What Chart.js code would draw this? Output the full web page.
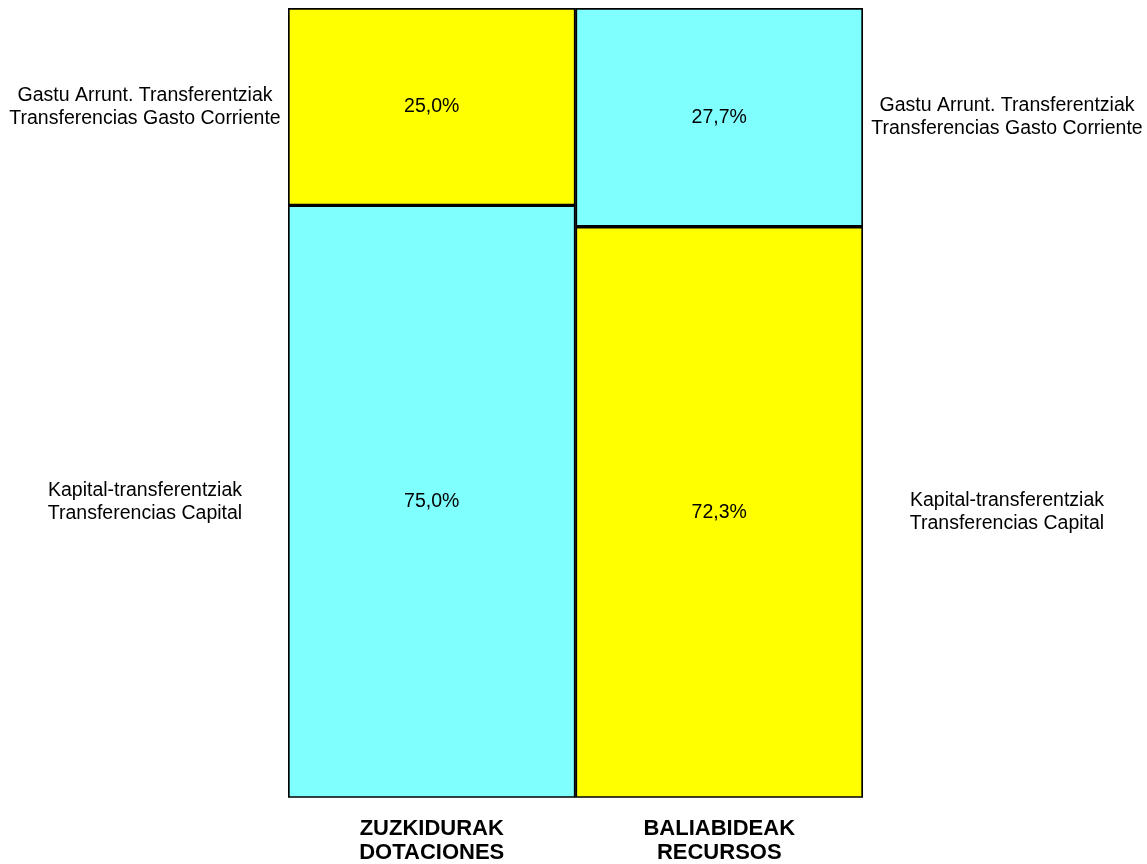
<!DOCTYPE html>
<html>
<head>
<meta charset="utf-8">
<script src="https://cdn.jsdelivr.net/npm/chart.js@4"></script>
<style>
  html, body { margin: 0; padding: 0; background: #fff; }
  #wrap { width: 1147px; height: 864px; }
</style>
</head>
<body>
<div id="wrap"><canvas id="grafico"></canvas></div>
<script>
var categorias = [['ZUZKIDURAK', 'DOTACIONES'], ['BALIABIDEAK', 'RECURSOS']];
var capitalValores = [75.0, 72.3];
var corrienteValores = [25.0, 27.7];
var capitalEtiqueta = ['Kapital-transferentziak', 'Transferencias Capital'];
var corrienteEtiqueta = ['Gastu Arrunt. Transferentziak', 'Transferencias Gasto Corriente'];

var AMARILLO = '#ffff00';
var CIAN = '#80ffff';
var FUENTE = '"Liberation Sans", Arial, sans-serif';

// etiquetas de valor y textos laterales
var etiquetasPlugin = {
    id: 'etiquetas',
    afterDatasetsDraw: function(chart) {
        var ctx = chart.ctx;
        var area = chart.chartArea;
        ctx.save();
        ctx.fillStyle = '#000';
        ctx.textAlign = 'center';
        ctx.textBaseline = 'middle';
        ctx.font = '19.5px ' + FUENTE;
        chart.data.datasets.forEach(function(ds, i) {
            var meta = chart.getDatasetMeta(i);
            meta.data.forEach(function(bar, j) {
                var yc = (bar.y + bar.base) / 2;
                var txt = ds.data[j].toFixed(1).replace('.', ',') + '%';
                ctx.fillText(txt, bar.x, yc);
                // texto lateral: izquierda para la primera barra, derecha para la segunda
                var xl = j === 0 ? area.left - 143 : area.right + 144;
                ctx.fillText(ds.lineas[0], xl, yc - 11.5);
                ctx.fillText(ds.lineas[1], xl, yc + 11.5);
            });
        });
        ctx.restore();
    }
};

var ctx = document.getElementById('grafico').getContext('2d');
var grafico = new Chart(ctx, {
    type: 'bar',
    data: {
        labels: categorias,
        datasets: [{
            label: capitalEtiqueta.join(' / '),
            lineas: capitalEtiqueta,
            data: capitalValores,
            backgroundColor: [CIAN, AMARILLO],
            borderColor: '#000',
            borderWidth: 2,
            borderSkipped: false
        },
        {
            label: corrienteEtiqueta.join(' / '),
            lineas: corrienteEtiqueta,
            data: corrienteValores,
            backgroundColor: [AMARILLO, CIAN],
            borderColor: '#000',
            borderWidth: 2,
            borderSkipped: false
        }]
    },
    options: {
        responsive: true,
        maintainAspectRatio: false,
        animation: false,
        layout: {
            padding: { left: 288, right: 284, top: 8, bottom: -20 }
        },
        datasets: {
            bar: { barPercentage: 1, categoryPercentage: 1 }
        },
        scales: {
            x: {
                stacked: true,
                grid: { display: false, drawTicks: false },
                border: { display: false },
                ticks: {
                    color: '#000',
                    padding: 20,
                    font: { family: FUENTE, size: 22, weight: 'bold', lineHeight: 1.05 }
                }
            },
            y: {
                stacked: true,
                display: false,
                min: 0,
                max: 100
            }
        },
        plugins: {
            legend: { display: false },
            tooltip: { enabled: false }
        }
    },
    plugins: [etiquetasPlugin]
});
</script>
</body>
</html>
